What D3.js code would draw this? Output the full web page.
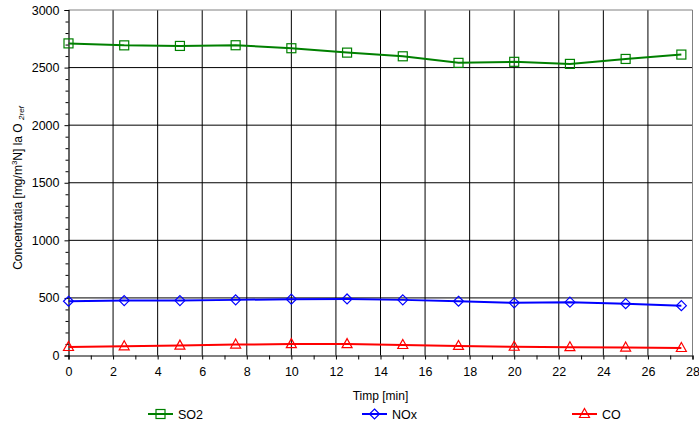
<!DOCTYPE html>
<html><head><meta charset="utf-8">
<script src="https://cdn.jsdelivr.net/npm/d3@7"></script>
<style>body{margin:0;background:#fff}svg{display:block;font-family:"Liberation Sans",Arial,sans-serif}</style>
</head><body><svg id="c" width="699" height="425"></svg>
<script>
const times = [0, 2.5, 5, 7.5, 10, 12.5, 15, 17.5, 20, 22.5, 25, 27.5];
const so2 = [2710, 2693, 2688, 2694, 2668, 2630, 2598, 2541, 2550, 2532, 2575, 2613];
const nox = [471, 477, 477, 483, 489, 491, 483, 471, 457, 463, 450, 433];
const co  = [74, 80, 86, 95, 99, 99, 91, 83, 76, 72, 69, 65];
const xTicks = [0,2,4,6,8,10,12,14,16,18,20,22,24,26,28];
const yTicks = [0,500,1000,1500,2000,2500,3000];
const seriesNames = ["SO2","NOx","CO"];
const seriesColors = ["#008000","#0000ff","#ff0000"];

const svg = d3.select("#c");
const m = {l:68.5, r:692.5, t:10, b:355.5};
const x = d3.scaleLinear().domain([0,28]).range([m.l,m.r]);
const y = d3.scaleLinear().domain([0,3000]).range([m.b,m.t]);

// grid
const g = svg.append("g");
g.selectAll(".vg").data(xTicks.slice(1,-1)).join("line")
  .attr("x1",d=>x(d)).attr("x2",d=>x(d)).attr("y1",m.t).attr("y2",m.b)
  .attr("stroke","#000").attr("stroke-width",1);
g.selectAll(".hg").data(yTicks.slice(1,-1)).join("line")
  .attr("y1",d=>y(d)).attr("y2",d=>y(d)).attr("x1",m.l).attr("x2",m.r)
  .attr("stroke","#000").attr("stroke-width",1);
// border top/right
svg.append("line").attr("x1",m.l).attr("x2",m.r).attr("y1",m.t).attr("y2",m.t).attr("stroke","#808080");
svg.append("line").attr("x1",m.r).attr("x2",m.r).attr("y1",m.t).attr("y2",m.b).attr("stroke","#808080");

// axes
const xAxis = d3.axisBottom(x).tickValues(xTicks).tickSize(4).tickPadding(8).tickFormat(d3.format("d"));
svg.append("g").attr("transform",`translate(0,${m.b})`).call(xAxis);
const xMinor = d3.axisBottom(x).tickValues(d3.range(1,28,2)).tickSize(4).tickFormat("");
svg.append("g").attr("transform",`translate(0,${m.b})`).call(xMinor).select(".domain").remove();
const yAxis = d3.axisLeft(y).tickValues(yTicks).tickSize(4).tickPadding(5).tickFormat(d3.format("d"));
svg.append("g").attr("transform",`translate(${m.l},0)`).call(yAxis);
const yMinor = d3.axisLeft(y).tickValues(d3.range(100,3000,100).filter(v=>v%500)).tickSize(3).tickFormat("");
svg.append("g").attr("transform",`translate(${m.l},0)`).call(yMinor).select(".domain").remove();
svg.selectAll(".domain").attr("stroke","#000").attr("stroke-width",1.2);
svg.selectAll(".tick line").attr("stroke","#000");
svg.selectAll(".tick text").attr("font-size",12.5).attr("font-family","Liberation Sans, Arial, sans-serif").attr("fill","#000");

// labels
svg.append("text").attr("x",x(14)).attr("y",400).attr("text-anchor","middle")
  .attr("font-size",12).text("Timp [min]");
const yl = svg.append("text").attr("transform",`translate(21.5,188) rotate(-90)`)
  .attr("text-anchor","middle").attr("font-size",12);
yl.append("tspan").text("Concentratia [mg/m");
yl.append("tspan").attr("font-size",8).attr("dy",-5).text("3");
yl.append("tspan").attr("dy",5).text("N] la O ");
yl.append("tspan").attr("font-size",8).attr("font-style","italic").attr("dy",2).text("2ref");

// series
const data = [so2,nox,co];
const line = d3.line().x((d,i)=>x(times[i])).y(d=>y(d));
function marker(sel, k, cx, cy, color){
  if(k===0) sel.append("rect").attr("x",cx-4.5).attr("y",cy-4.5).attr("width",9).attr("height",9)
    .attr("fill","none").attr("stroke",color).attr("stroke-width",1.2);
  else if(k===1) sel.append("path").attr("d",`M${cx},${cy-5}L${cx+5},${cy}L${cx},${cy+5}L${cx-5},${cy}Z`)
    .attr("fill","none").attr("stroke",color).attr("stroke-width",1.2);
  else sel.append("path").attr("d",`M${cx},${cy-5.5}L${cx+5},${cy+3.5}L${cx-5},${cy+3.5}Z`)
    .attr("fill","none").attr("stroke",color).attr("stroke-width",1.2);
}
data.forEach((vals,k)=>{
  svg.append("path").datum(vals).attr("d",line).attr("fill","none")
    .attr("stroke",seriesColors[k]).attr("stroke-width",2);
  const mg = svg.append("g");
  vals.forEach((v,i)=>marker(mg,k,x(times[i]),y(v),seriesColors[k]));
});

// legend
const legX = [148, 362, 572];
seriesNames.forEach((n,k)=>{
  const lg = svg.append("g");
  lg.append("line").attr("x1",legX[k]).attr("x2",legX[k]+25).attr("y1",414).attr("y2",414)
    .attr("stroke",seriesColors[k]).attr("stroke-width",2);
  marker(lg,k,legX[k]+12.5,414,seriesColors[k]);
  lg.append("text").attr("x",legX[k]+30).attr("y",418.5).attr("font-size",12.5).text(n);
});
</script></body></html>
